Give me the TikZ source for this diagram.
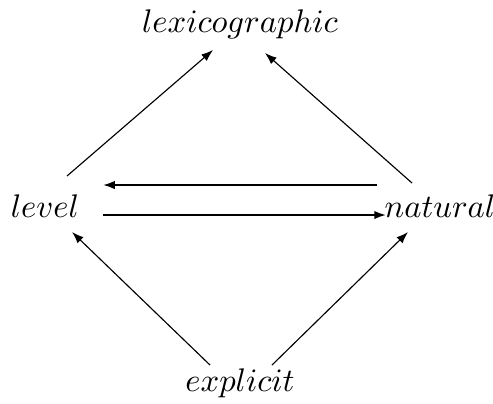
\documentclass[tikz,border=0pt]{standalone}
\usetikzlibrary{arrows.meta}
\begin{document}
\begin{tikzpicture}[x=0.306pt,y=-0.306pt,
  lbl/.style={inner sep=0pt,anchor=base},
  thin arrow/.style={-{Latex[length=3.6pt,width=2.6pt]},line width=0.35pt},
  thick arrow/.style={-{Latex[length=3.6pt,width=2.6pt]},line width=0.6pt}]
\useasboundingbox (0,0) rectangle (493,403);
\node[lbl] (lex) at (240,32) {$lexicographic$};
\node[lbl] (lev) at (45,217) {$level$};
\node[lbl] (nat) at (440,217) {$natural$};
\node[lbl] (exp) at (240,391) {$explicit$};
% endpoints
\coordinate (levU) at (67,176);
\coordinate (lexL) at (213,50);
\coordinate (natU) at (412,183);
\coordinate (lexR) at (265,53);
\coordinate (natT) at (377,185);
\coordinate (levT) at (103,185);
\coordinate (levB) at (103,215);
\coordinate (natB) at (386,215);
\coordinate (expL) at (210,365);
\coordinate (levD) at (72,232);
\coordinate (expR) at (272,365);
\coordinate (natD) at (408,232);
\draw[thin arrow] (levU) -- (lexL);
\draw[thin arrow] (natU) -- (lexR);
\draw[thick arrow] (natT) -- (levT);
\draw[thick arrow] (levB) -- (natB);
\draw[thin arrow] (expL) -- (levD);
\draw[thin arrow] (expR) -- (natD);
\end{tikzpicture}
\end{document}
